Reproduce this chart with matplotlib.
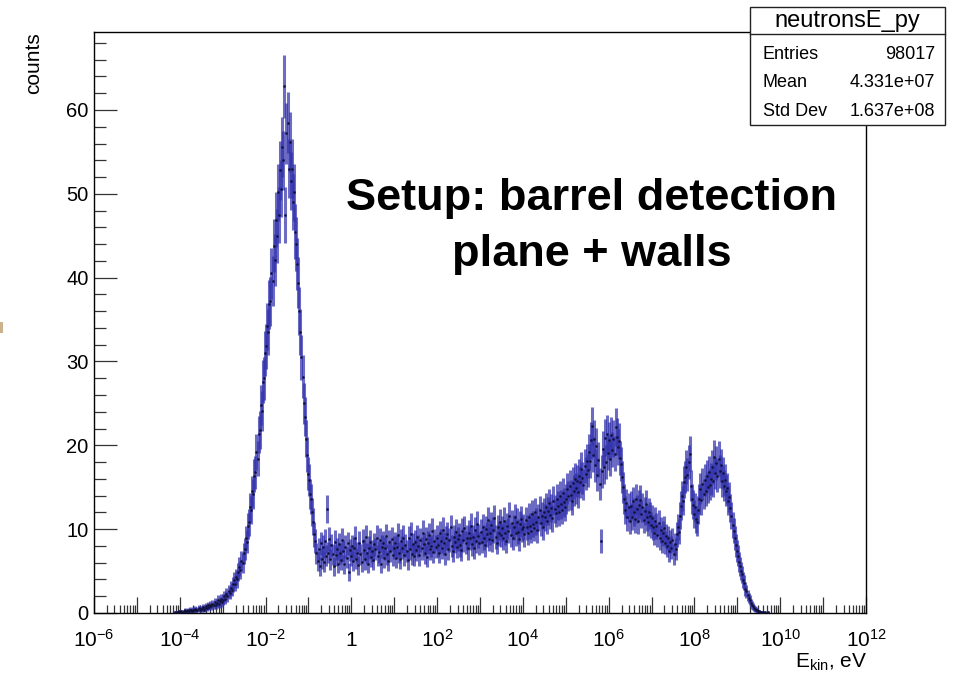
import numpy as np
import matplotlib
matplotlib.use('Agg')
import matplotlib.pyplot as plt
from matplotlib.ticker import LogLocator, MultipleLocator, FuncFormatter, NullFormatter
from matplotlib.patches import Rectangle
from matplotlib.lines import Line2D

plt.rcParams['font.family'] = ['Liberation Sans', 'DejaVu Sans']
plt.rcParams['mathtext.fontset'] = 'custom'
plt.rcParams['mathtext.rm'] = 'Liberation Sans'
plt.rcParams['mathtext.it'] = 'Liberation Sans:italic'
plt.rcParams['mathtext.bf'] = 'Liberation Sans:bold'

# ---------------- data ----------------
# histogram: 40 log-spaced bins per decade, from 10^-4.5 to 10^10 eV
log_e_low = -4.5
log_e_high = 10.0

c_m45 = [0, 0, 0, 0, 0, 0, 0, 0, 0, 0, 0, 0, 0, 0, 0, 0.1, 0, 0.1, 0.1, 0.2]
c_m40 = [0.1, 0.2, 0.1, 0.2, 0.3, 0.1, 0.2, 0.3, 0.2, 0.4, 0.3, 0.2, 0.4, 0.3, 0.5, 0.3, 0.4, 0.6, 0.4, 0.5]
c_m35 = [0.5, 0.7, 0.4, 0.6, 0.8, 0.6, 0.9, 0.7, 1.0, 0.8, 1.1, 0.9, 1.3, 1.0, 1.2, 1.5, 1.1, 1.4, 1.7, 1.3]
c_m30 = [1.6, 2.0, 1.7, 2.3, 2.0, 2.6, 2.4, 3.0, 2.8, 3.4, 3.9, 3.5, 4.3, 4.0, 4.9, 5.5, 5.1, 6.2, 6.0, 7.1]
c_m25 = [7.6, 8.9, 8.5, 10.4, 10.8, 12.6, 12.3, 14.5, 14.2, 16.4, 16.8, 19.2, 18.4, 21.3, 21.8, 24.8, 24.1, 27.6, 28.0, 31.0]
c_m20 = [31.8, 34.2, 33.5, 36.8, 37.2, 40.5, 39.6, 43.8, 42.1, 46.9, 45.0, 50.2, 47.5, 52.8, 50.6, 55.6, 54.0, 62.8, 47.5, 57.2]
c_m15 = [58.5, 53.0, 56.2, 51.5, 53.0, 49.0, 50.2, 45.5, 44.0, 41.6, 39.4, 36.0, 33.5, 30.5, 28.2, 25.0, 23.4, 20.8, 18.9, 16.6]
c_m10 = [15.9, 14.2, 13.6, 12.0, 10.9, 9.4, 8.6, 7.1, 6.2, 7.6, 5.6, 8.3, 6.5, 7.9, 6.1, 8.6, 6.8, 12.4, 7.2, 8.8]
c_m05 = [6.4, 8.1, 7.0, 5.6, 8.5, 6.9, 7.6, 5.9, 8.2, 7.1, 6.3, 8.7, 7.4, 5.8, 7.9, 6.6, 8.3, 4.9, 7.5, 6.8]
c_p00 = [8.0, 6.2, 7.7, 8.9, 6.5, 7.2, 5.7, 8.4, 7.0, 6.1, 8.6, 7.5, 6.4, 9.1, 7.1, 5.9, 7.8, 8.5, 6.7, 7.4]
c_p05 = [6.3, 8.2, 7.6, 9.0, 6.8, 7.3, 8.7, 5.9, 7.9, 8.4, 6.6, 7.7, 9.2, 7.0, 6.2, 8.5, 7.4, 8.8, 6.9, 7.8]
c_p10 = [8.3, 6.6, 7.9, 9.3, 7.2, 6.5, 8.6, 7.8, 9.0, 6.9, 8.1, 7.4, 6.3, 8.9, 7.6, 9.4, 7.0, 8.2, 6.8, 8.5]
c_p15 = [7.5, 9.1, 8.0, 6.9, 8.7, 7.7, 9.6, 8.2, 7.1, 8.8, 6.7, 8.4, 9.3, 7.6, 8.0, 9.8, 7.3, 8.6, 7.9, 9.0]
c_p20 = [8.1, 7.2, 9.5, 8.6, 7.8, 9.9, 8.3, 7.0, 8.9, 9.4, 7.6, 8.7, 10.2, 8.0, 7.4, 9.1, 8.5, 9.7, 7.9, 8.8]
c_p25 = [9.3, 8.1, 7.5, 9.8, 8.7, 10.1, 8.4, 9.0, 7.7, 9.6, 8.9, 10.4, 8.2, 9.1, 7.8, 9.9, 8.6, 10.6, 9.2, 8.3]
c_p30 = [9.7, 8.5, 10.3, 9.0, 8.1, 10.0, 9.4, 11.1, 8.8, 9.6, 10.5, 8.7, 9.9, 11.3, 9.1, 8.4, 10.2, 9.5, 10.8, 9.3]
c_p35 = [10.1, 9.0, 11.0, 9.6, 8.6, 10.4, 9.8, 11.6, 9.3, 10.7, 8.9, 10.2, 11.4, 9.5, 10.9, 9.7, 8.8, 10.6, 11.2, 10.0]
c_p40 = [10.3, 9.4, 11.1, 10.2, 9.6, 11.5, 10.4, 9.8, 11.8, 10.6, 10.1, 12.0, 10.9, 9.9, 11.4, 12.3, 10.7, 11.6, 10.3, 12.1]
c_p45 = [11.4, 12.6, 11.0, 12.2, 13.1, 11.7, 12.5, 11.3, 13.4, 12.4, 11.9, 13.6, 12.8, 12.0, 14.0, 13.0, 12.3, 14.3, 13.2, 12.7]
c_p50 = [13.6, 14.8, 13.9, 15.2, 14.1, 13.4, 15.5, 14.6, 16.0, 14.9, 15.7, 14.4, 16.4, 15.6, 17.2, 16.1, 15.3, 17.5, 16.6, 18.1]
c_p55 = [17.0, 19.2, 18.1, 20.6, 22.3, 18.9, 20.8, 17.6, 19.9, 16.5, 18.3, 15.4, 8.6, 16.9, 19.6, 17.4, 20.9, 18.0, 21.4, 19.1]
c_p60 = [20.6, 18.4, 21.2, 19.5, 20.8, 19.0, 22.2, 21.0, 19.8, 20.5, 18.5, 17.8, 16.2, 15.0, 13.6, 12.3, 13.1, 11.4, 12.6, 11.0]
c_p65 = [12.8, 11.5, 13.3, 12.0, 11.2, 13.6, 12.4, 11.0, 12.9, 13.5, 11.8, 12.6, 11.1, 12.2, 13.0, 11.4, 10.8, 12.1, 11.6, 10.5]
c_p70 = [11.3, 10.2, 9.6, 11.0, 10.4, 9.3, 10.7, 9.0, 9.9, 8.6, 9.5, 10.1, 8.4, 9.2, 8.0, 8.9, 7.4, 8.5, 7.8, 8.7]
c_p75 = [7.0, 8.2, 7.6, 9.4, 10.3, 9.7, 11.6, 12.8, 14.0, 13.4, 15.6, 16.2, 17.4, 16.5, 18.0, 19.0, 15.2, 13.6, 12.9, 11.8]
c_p80 = [12.6, 11.2, 10.8, 12.3, 13.6, 14.8, 13.5, 15.4, 14.2, 15.9, 14.6, 16.3, 15.0, 16.8, 15.3, 16.0, 17.4, 15.8, 18.6, 16.7]
c_p85 = [17.9, 16.4, 18.4, 16.9, 17.6, 15.8, 16.7, 15.2, 15.9, 14.6, 14.9, 13.4, 13.8, 12.5, 11.6, 10.5, 9.8, 8.9, 8.1, 7.4]
c_p90 = [6.8, 6.1, 5.6, 5.0, 4.6, 3.9, 3.6, 2.9, 2.6, 2.1, 1.8, 1.5, 1.2, 1.0, 0.8, 0.6, 0.5, 0.4, 0.3, 0.2]
c_p95 = [0.2, 0.1, 0.1, 0.1, 0, 0.1, 0, 0, 0.1, 0, 0, 0, 0, 0, 0, 0, 0, 0, 0, 0]

stats_title = 'neutronsE_py'
stats_labels = ['Entries', 'Mean', 'Std Dev']
stats_values = ['98017', '4.331e+07', '1.637e+08']

x_decades = list(range(-6, 13))
annotation_lines = ['Setup: barrel detection', 'plane + walls']

# ---------------- derived ----------------
counts = np.array(c_m45 + c_m40 + c_m35 + c_m30 + c_m25 + c_m20 + c_m15 + c_m10 +
                  c_m05 + c_p00 + c_p05 + c_p10 + c_p15 + c_p20 + c_p25 + c_p30 +
                  c_p35 + c_p40 + c_p45 + c_p50 + c_p55 + c_p60 + c_p65 + c_p70 +
                  c_p75 + c_p80 + c_p85 + c_p90 + c_p95, dtype=float)
n_bins = len(counts)
edges = 10.0 ** np.linspace(log_e_low, log_e_high, n_bins + 1)
centers = np.sqrt(edges[:-1] * edges[1:])
errors = 0.48 * np.sqrt(counts)
mask = counts > 0

# ---------------- figure ----------------
W, H = 961, 676
fig = plt.figure(figsize=(W / 100, H / 100), dpi=100)
fig.patch.set_facecolor('white')

def fx(px):
    return px / W

def fy(py):
    return 1 - py / H

ax_l, ax_r, ax_t, ax_b = 94, 866, 32, 613
ax = fig.add_axes([fx(ax_l), fy(ax_b), (ax_r - ax_l) / W, (ax_b - ax_t) / H])

xc = centers[mask]
yc = counts[mask]
xerr = np.vstack([xc - edges[:-1][mask], edges[1:][mask] - xc])
ax.errorbar(xc, yc, yerr=errors[mask], xerr=xerr, fmt='none',
            ecolor=(0.2, 0.2, 0.68, 0.72), elinewidth=2.2, capsize=0, zorder=2)
ax.plot(xc, yc, linestyle='none', marker='o', ms=0.8, color='#111133', zorder=3)

ax.set_xscale('log')
ax.set_xlim(10.0 ** x_decades[0], 10.0 ** x_decades[-1])
ax.set_ylim(0, 69.3)

ax.xaxis.set_major_locator(LogLocator(base=10, numticks=100))
ax.xaxis.set_minor_locator(LogLocator(base=10, subs=np.arange(2, 10), numticks=200))

def xfmt(v, pos):
    e = int(round(np.log10(v)))
    if e % 2 != 0:
        return ''
    if e == 0:
        return r'$\mathdefault{1}$'
    return r'$\mathdefault{10^{%d}}$' % e

ax.xaxis.set_major_formatter(FuncFormatter(xfmt))
ax.xaxis.set_minor_formatter(NullFormatter())
ax.yaxis.set_major_locator(MultipleLocator(10))
ax.yaxis.set_minor_locator(MultipleLocator(2))

ax.tick_params(axis='x', which='major', direction='in', length=11.5, width=0.9,
               color='#333333', labelsize=15, pad=24, top=False)
ax.tick_params(axis='x', which='minor', direction='in', length=5.8, width=0.9,
               color='#333333', top=False)
ax.tick_params(axis='y', which='major', direction='in', length=16.5, width=0.9,
               color='#333333', labelsize=14.5, pad=4, right=False)
ax.tick_params(axis='y', which='minor', direction='in', length=8.5, width=0.9,
               color='#333333', right=False)
for s in ax.spines.values():
    s.set_linewidth(1.0)
    s.set_color('black')

# axis titles
fig.text(fx(867), fy(668), r'E$_{\mathdefault{kin}}$, eV', ha='right', va='baseline', fontsize=15)
fig.text(fx(34), fy(32), 'counts', ha='center', va='top', rotation=90, fontsize=15)

# annotation
fig.text(fx(592), fy(210), annotation_lines[0], ha='center', va='baseline',
         fontsize=32.5, fontweight='bold')
fig.text(fx(592), fy(266), annotation_lines[1], ha='center', va='baseline',
         fontsize=32.5, fontweight='bold')

# stats box
bx0, bx1, by0, by1 = 750, 945, 7, 125
fig.add_artist(Rectangle((fx(bx0), fy(by1)), (bx1 - bx0) / W, (by1 - by0) / H,
                         transform=fig.transFigure, facecolor='white',
                         edgecolor='#222222', linewidth=1.0, zorder=5))
fig.add_artist(Line2D([fx(bx0), fx(bx1)], [fy(34), fy(34)], transform=fig.transFigure,
                      color='#222222', linewidth=1.0, zorder=6))
fig.text(fx((bx0 + bx1) / 2), fy(27), stats_title, ha='center', va='baseline',
         fontsize=17, zorder=7)
row_y = [59, 87, 116]
for lab, val, ry in zip(stats_labels, stats_values, row_y):
    fig.text(fx(763), fy(ry), lab, ha='left', va='baseline', fontsize=13, zorder=7)
    fig.text(fx(935), fy(ry), val, ha='right', va='baseline', fontsize=13, zorder=7)

# small tan mark at left edge present in the reference image
fig.add_artist(Rectangle((0, fy(333)), 3 / W, 11 / H, transform=fig.transFigure,
                         facecolor='#cbb28c', edgecolor='none', zorder=5))

fig.canvas.draw()
for lbl in ax.get_xticklabels():
    lbl.set_verticalalignment('baseline')

fig.savefig('out.png', dpi=100)
